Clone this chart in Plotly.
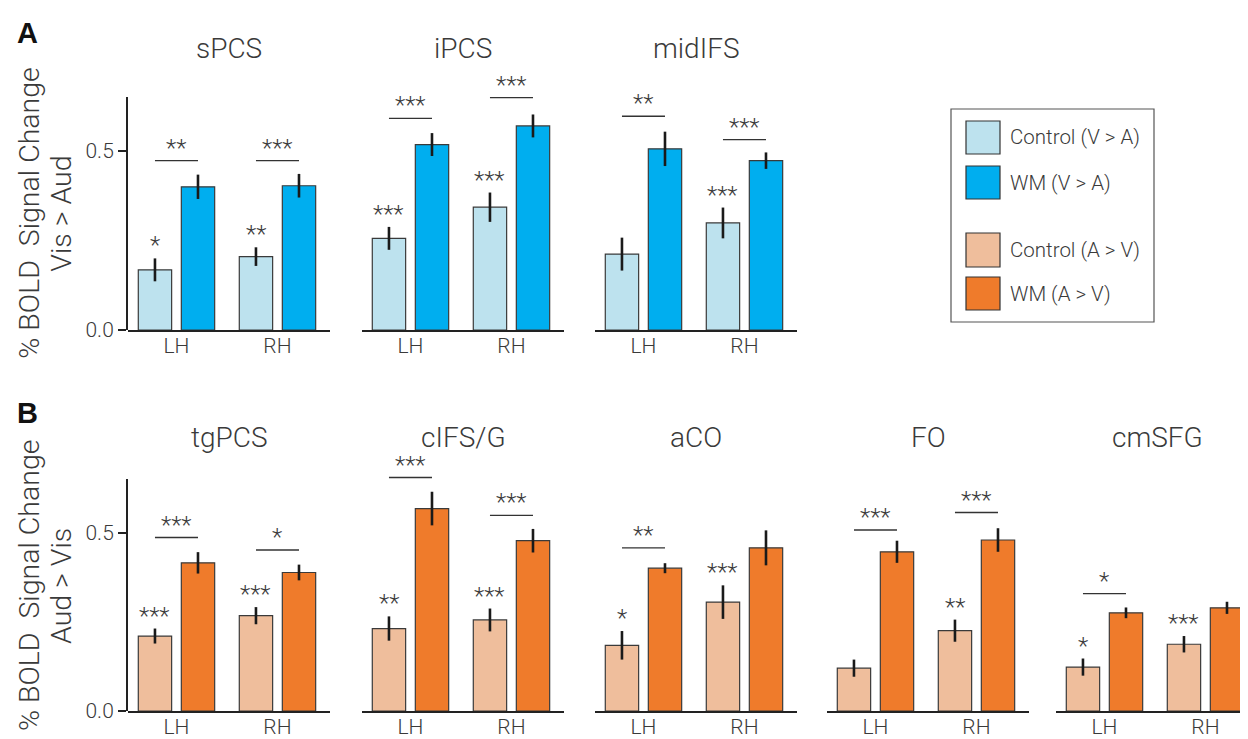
import plotly.graph_objects as go

# ---------------- data ----------------
hemis = ["LH", "RH"]

regions_A = ["sPCS", "iPCS", "midIFS"]
ctrl_A = [[0.168, 0.205], [0.256, 0.343], [0.212, 0.299]]
ctrl_A_err = [[0.032, 0.026], [0.032, 0.041], [0.046, 0.043]]
wm_A = [[0.400, 0.403], [0.518, 0.570], [0.506, 0.473]]
wm_A_err = [[0.034, 0.033], [0.032, 0.032], [0.048, 0.023]]
ctrl_A_sig = [["*", "**"], ["***", "***"], ["", "***"]]
diff_A_sig = [["**", "***"], ["***", "***"], ["**", "***"]]
diff_A_y = [[0.473, 0.473], [0.591, 0.649], [0.597, 0.532]]

regions_B = ["tgPCS", "cIFS/G", "aCO", "FO", "cmSFG"]
ctrl_B = [[0.210, 0.267], [0.231, 0.255], [0.184, 0.305], [0.120, 0.225], [0.123, 0.187]]
ctrl_B_err = [[0.021, 0.024], [0.034, 0.032], [0.040, 0.047], [0.024, 0.031], [0.024, 0.023]]
wm_B = [[0.415, 0.388], [0.567, 0.477], [0.400, 0.457], [0.446, 0.479], [0.275, 0.289]]
wm_B_err = [[0.030, 0.022], [0.047, 0.033], [0.014, 0.049], [0.031, 0.033], [0.015, 0.017]]
ctrl_B_sig = [["***", "***"], ["**", "***"], ["*", "***"], ["", "**"], ["*", "***"]]
diff_B_sig = [["***", "*"], ["***", "***"], ["**", ""], ["***", "***"], ["*", ""]]
diff_B_y = [[0.486, 0.451], [0.654, 0.548], [0.457, None], [0.507, 0.556], [0.329, None]]

legend_labels = ["Control (V > A)", "WM (V > A)", "Control (A > V)", "WM (A > V)"]
ytitle_A = ["% BOLD\u00a0\u00a0Signal Change", "Vis > Aud"]
ytitle_B = ["% BOLD\u00a0\u00a0Signal Change", "Aud > Vis"]
ytick_vals = [0, 0.5]
ytick_text = ["0.0", "0.5"]

# ---------------- style ----------------
C_CTRL_V = "#bde2ee"
C_WM_V = "#00aeef"
C_CTRL_A = "#efbe9c"
C_WM_A = "#ef7b2b"
TXT = "#3a3a3a"
FONT = "Roboto"

OFFSET = 8                      # page body margin
W, H = 1248 - OFFSET, 739 - OFFSET
BARGAP = 0.148
BARGROUPGAP = 0.225
OFF = (1 - BARGAP) / 4
PX_PER_UNIT_X = 101.0
X_LEFT = -0.48
PANEL_W = 202
YAXIS_TOP = 0.65    # visible y-axis line length
YDATA_TOP = 0.74    # plotting range (room for significance marks)

def px(p):
    return (p - OFFSET) / W

def py(p):
    return 1 - (p - OFFSET) / H

def f(size):
    return dict(size=size, color=TXT, family=FONT, weight=300)

fig = go.Figure()
layout_axes = {}
annotations = []
shapes = []

rows = [
    dict(regions=regions_A, ctrl=ctrl_A, ctrl_err=ctrl_A_err, wm=wm_A, wm_err=wm_A_err,
         csig=ctrl_A_sig, dsig=diff_A_sig, dy=diff_A_y, lefts=[128, 362, 595],
         bottom=330, unit=358, cc=C_CTRL_V, cw=C_WM_V, title_y=48, ytitle=ytitle_A,
         ytitle_shift=0, letter="A", letter_y=33),
    dict(regions=regions_B, ctrl=ctrl_B, ctrl_err=ctrl_B_err, wm=wm_B, wm_err=wm_B_err,
         csig=ctrl_B_sig, dsig=diff_B_sig, dy=diff_B_y, lefts=[128, 362, 595, 827, 1056],
         bottom=711, unit=357, cc=C_CTRL_A, cw=C_WM_A, title_y=437, ytitle=ytitle_B,
         ytitle_shift=-9, letter="B", letter_y=413),
]

xs = list(range(len(hemis)))
n = 0
frame_axes = []
for r in rows:
    top_axis = r["bottom"] - YAXIS_TOP * r["unit"]
    top_data = r["bottom"] - YDATA_TOP * r["unit"]
    for j, reg in enumerate(r["regions"]):
        n += 1
        xa = "x" if n == 1 else f"x{n}"
        ya = "y" if n == 1 else f"y{n}"
        left = r["lefts"][j]
        right = min(1248, left + PANEL_W)
        xr = [X_LEFT, X_LEFT + (right - left) / PX_PER_UNIT_X]
        xdom = [px(left), min(1.0, px(right))]
        layout_axes["xaxis" if n == 1 else f"xaxis{n}"] = dict(
            domain=xdom, anchor=ya, range=xr,
            showline=True, linecolor="#222", linewidth=2, ticks="",
            tickvals=xs, ticktext=hemis, tickfont=f(21), automargin=False,
            ticklabelstandoff=-4,
            showgrid=False, zeroline=False, fixedrange=True,
        )
        layout_axes["yaxis" if n == 1 else f"yaxis{n}"] = dict(
            domain=[py(r["bottom"]), py(top_data)], anchor=xa, range=[0, YDATA_TOP],
            visible=False, automargin=False, fixedrange=True,
        )
        if j == 0:
            frame_axes.append((xdom, xr, [py(r["bottom"]), py(top_axis)]))
        for vals, errs, col in [(r["ctrl"][j], r["ctrl_err"][j], r["cc"]),
                                (r["wm"][j], r["wm_err"][j], r["cw"])]:
            fig.add_trace(go.Bar(
                x=xs, y=vals, xaxis=xa, yaxis=ya, showlegend=False,
                marker=dict(color=col, line=dict(color="#3a3a3a", width=1.2)),
                error_y=dict(type="data", array=errs, visible=True, color="#1a1a1a",
                             thickness=2.6, width=0),
                hoverinfo="skip",
            ))
        for k in xs:
            s = r["csig"][j][k]
            if s:
                annotations.append(dict(
                    x=k - OFF, y=r["ctrl"][j][k] + r["ctrl_err"][j][k], xref=xa, yref=ya,
                    text=s, showarrow=False, yanchor="bottom", yshift=-3, font=f(24)))
            d = r["dsig"][j][k]
            if d:
                yv = r["dy"][j][k]
                fig.add_trace(go.Scatter(
                    x=[k - OFF, k + OFF], y=[yv, yv], xaxis=xa, yaxis=ya, mode="lines",
                    line=dict(color="#333", width=1.3), cliponaxis=False,
                    showlegend=False, hoverinfo="skip"))
                annotations.append(dict(
                    x=k, y=yv, xref=xa, yref=ya, text=d, showarrow=False,
                    yanchor="bottom", yshift=-3, font=f(24)))
        annotations.append(dict(
            x=px(left + PANEL_W / 2), y=py(r["title_y"]), xref="paper", yref="paper",
            text=reg, showarrow=False, xanchor="center", yanchor="middle", font=f(28)))
    yc = py((r["bottom"] + top_axis) / 2 + r["ytitle_shift"])
    for t, xpix in zip(r["ytitle"], [30, 62]):
        annotations.append(dict(
            x=px(xpix), y=yc, xref="paper", yref="paper", text=t, textangle=-90,
            showarrow=False, xanchor="center", yanchor="middle", font=f(28.5)))
    annotations.append(dict(
        x=px(27), y=py(r["letter_y"]), xref="paper", yref="paper", text="<b>" + r["letter"] + "</b>",
        showarrow=False, xanchor="center", yanchor="middle",
        font=dict(size=29, color="#111", family="Liberation Sans")))

# visible y axes (line + ticks) for the first panel of each row
for xdom, xr, ydom in frame_axes:
    n += 1
    xa, ya = f"x{n}", f"y{n}"
    layout_axes[f"xaxis{n}"] = dict(domain=xdom, anchor=ya, range=xr, visible=False,
                                    fixedrange=True, automargin=False)
    layout_axes[f"yaxis{n}"] = dict(
        domain=ydom, anchor=xa, range=[0, YAXIS_TOP],
        showline=True, linecolor="#222", linewidth=2, automargin=False,
        ticks="outside", ticklen=8, tickwidth=2, tickcolor="#222",
        tickvals=ytick_vals, ticktext=ytick_text, tickfont=f(21),
        showgrid=False, zeroline=False, fixedrange=True,
    )
    fig.add_trace(go.Scatter(x=[None], y=[None], xaxis=xa, yaxis=ya, mode="markers",
                             showlegend=False, hoverinfo="skip"))

# ---------------- legend (drawn manually) ----------------
shapes.append(dict(type="rect", xref="paper", yref="paper",
                   x0=px(951), x1=px(1154), y0=py(322), y1=py(109),
                   line=dict(color="#555", width=1.2), fillcolor="rgba(0,0,0,0)"))
leg_cols = [C_CTRL_V, C_WM_V, C_CTRL_A, C_WM_A]
leg_rows = [(121, 154), (166, 199), (233, 267), (277, 310)]
for lab, col, (t, b) in zip(legend_labels, leg_cols, leg_rows):
    shapes.append(dict(type="rect", xref="paper", yref="paper",
                       x0=px(966), x1=px(1000), y0=py(b), y1=py(t),
                       line=dict(color="#333", width=1.2), fillcolor=col))
    annotations.append(dict(
        x=px(1008), y=py((t + b) / 2), xref="paper", yref="paper", text=lab,
        showarrow=False, xanchor="left", yanchor="middle", font=f(20.5)))

fig.update_layout(
    width=W, height=H, margin=dict(l=0, r=0, t=0, b=0, autoexpand=False),
    paper_bgcolor="rgba(0,0,0,0)", plot_bgcolor="rgba(0,0,0,0)",
    barmode="group", bargap=BARGAP, bargroupgap=BARGROUPGAP,
    annotations=annotations, shapes=shapes, showlegend=False,
    font=dict(family=FONT, color=TXT),
    **layout_axes,
)

fig.write_html("out.html")
